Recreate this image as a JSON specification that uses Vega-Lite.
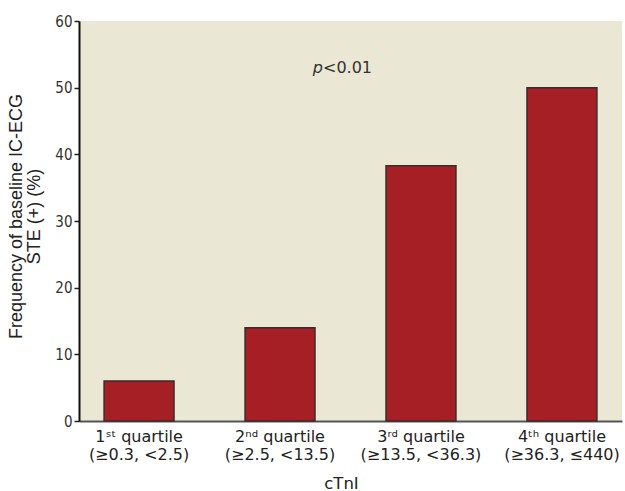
{
  "$schema": "https://vega.github.io/schema/vega-lite/v6.json",
  "width": 543,
  "height": 400,
  "autosize": {"type": "none"},
  "padding": {"left": 79, "top": 21, "right": 3, "bottom": 70},
  "background": "white",
  "config": {"view": {"fill": "#ebe7d5", "stroke": null}},
  "data": {"values": [
    {"label": "1ˢᵗ quartile|(≥0.3, <2.5)", "freq": 6},
    {"label": "2ⁿᵈ quartile|(≥2.5, <13.5)", "freq": 14},
    {"label": "3ʳᵈ quartile|(≥13.5, <36.3)", "freq": 38.3},
    {"label": "4ᵗʰ quartile|(≥36.3, ≤440)", "freq": 50}
  ]},
  "layer": [
    {
      "mark": {"type": "bar", "color": "#a51f25", "stroke": "#3b2b2b", "strokeWidth": 1.5},
      "encoding": {
        "x": {
          "field": "label", "type": "nominal", "sort": null,
          "scale": {"paddingInner": 0.504, "paddingOuter": 0.178},
          "axis": {
            "title": "cTnI",
            "labelAngle": 0,
            "labelExpr": "split(datum.label, '|')",
            "labelFont": "DejaVu Sans",
            "labelFontSize": 16,
            "labelLineHeight": 18,
            "labelColor": "#222",
            "labelPadding": 7,
            "ticks": false,
            "domainColor": "#555",
            "domainWidth": 2,
            "titleFont": "DejaVu Sans",
            "titleFontSize": 16.5,
            "titleFontWeight": "normal",
            "titleColor": "#222",
            "titleBaseline": "alphabetic",
            "titleX": 262,
            "titleY": 67
          }
        },
        "y": {
          "field": "freq", "type": "quantitative",
          "scale": {"domain": [0, 60]},
          "axis": {
            "values": [0, 10, 20, 30, 40, 50, 60],
            "grid": false,
            "title": ["Frequency of baseline IC-ECG", "STE (+) (%)"],
            "titleFont": "Liberation Sans",
            "titleFontSize": 18,
            "titleFontWeight": "normal",
            "titleLineHeight": 18,
            "titleColor": "#222",
            "titleX": -54,
            "titleY": 195,
            "labelFont": "DejaVu Sans Condensed, Roboto Condensed, Liberation Sans Narrow, sans-serif",
            "labelFontSize": 15,
            "labelColor": "#333",
            "labelPadding": 2,
            "tickSize": 5,
            "tickWidth": 1.5,
            "tickColor": "#222",
            "domainColor": "#111",
            "domainWidth": 2
          }
        }
      }
    },
    {
      "data": {"values": [{"pos": "2ⁿᵈ quartile|(≥2.5, <13.5)", "val": 53, "p": "p", "rest": "<0.01"}]},
      "layer": [
        {
          "mark": {"type": "text", "align": "right", "baseline": "middle", "font": "DejaVu Sans", "fontSize": 16, "fontStyle": "italic", "color": "#333", "dx": 43},
          "encoding": {
            "x": {"field": "pos", "type": "nominal", "sort": null},
            "y": {"field": "val", "type": "quantitative"},
            "text": {"field": "p"}
          }
        },
        {
          "mark": {"type": "text", "align": "left", "baseline": "middle", "font": "DejaVu Sans", "fontSize": 16, "color": "#333", "dx": 43},
          "encoding": {
            "x": {"field": "pos", "type": "nominal", "sort": null},
            "y": {"field": "val", "type": "quantitative"},
            "text": {"field": "rest"}
          }
        }
      ]
    }
  ]
}
